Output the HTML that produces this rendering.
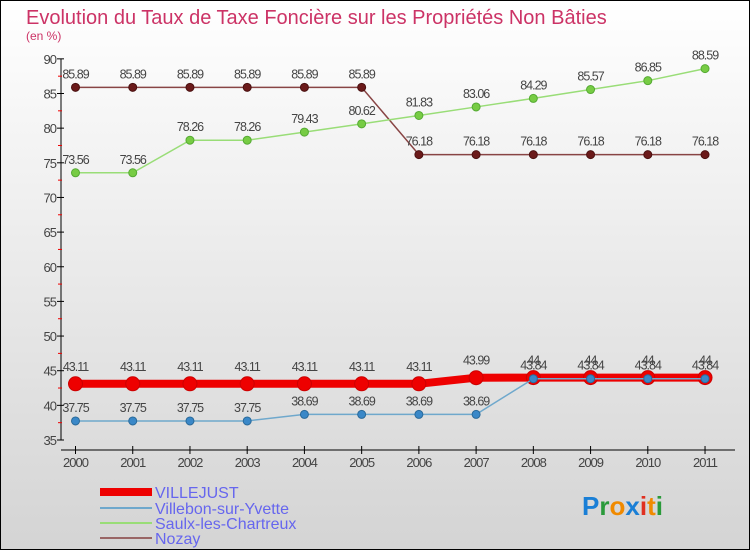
<!DOCTYPE html>
<html><head><meta charset="utf-8"><style>
body{margin:0}
#c{width:750px;height:550px;position:relative;overflow:hidden;font-family:"Liberation Sans",sans-serif}
</style></head><body>
<div id="c">
<svg id="s" width="750" height="550" xmlns="http://www.w3.org/2000/svg">
<defs><linearGradient id="bg" x1="0" y1="0" x2="0" y2="1"><stop offset="0" stop-color="#ffffff"/><stop offset="1" stop-color="#d4d4d4"/></linearGradient></defs>
<rect x="0.5" y="0.5" width="749" height="549" fill="url(#bg)" stroke="#000"/>
<text x="26" y="24" font-size="20" fill="#cc3366">Evolution du Taux de Taxe Foncière sur les Propriétés Non Bâties</text>
<text x="26" y="40" font-size="12" fill="#cc3366">(en %)</text>
<g id="axes"></g><g id="series"></g>
<g>
<rect x="100" y="488" width="52" height="8" fill="#e00"/>
<text x="155" y="498" font-size="16" fill="#6666ee">VILLEJUST</text>
<line x1="100" y1="508" x2="152" y2="508" stroke="#6fa8cc" stroke-width="2"/>
<text x="155" y="514" font-size="16" fill="#6666ee">Villebon-sur-Yvette</text>
<line x1="100" y1="523" x2="152" y2="523" stroke="#99dd77" stroke-width="2"/>
<text x="155" y="529" font-size="16" fill="#6666ee">Saulx-les-Chartreux</text>
<line x1="100" y1="538" x2="152" y2="538" stroke="#996666" stroke-width="2"/>
<text x="155" y="544" font-size="16" fill="#6666ee">Nozay</text>
</g>
<text x="582" y="515" font-size="26" font-weight="bold"><tspan fill="#1a7fd6">P</tspan><tspan fill="#2a9a3a">r</tspan><tspan fill="#f08a00">o</tspan><tspan fill="#1a7fd6">x</tspan><tspan fill="#e03020">i</tspan><tspan fill="#f08a00">t</tspan><tspan fill="#2a9a3a">i</tspan></text>
</svg>
</div>
<script>
const years=[2000,2001,2002,2003,2004,2005,2006,2007,2008,2009,2010,2011];
const yTicks=[35,40,45,50,55,60,65,70,75,80,85,90];
const villejust=[43.11,43.11,43.11,43.11,43.11,43.11,43.11,43.99,44,44,44,44];
const villebon=[37.75,37.75,37.75,37.75,38.69,38.69,38.69,38.69,43.84,43.84,43.84,43.84];
const saulx=[73.56,73.56,78.26,78.26,79.43,80.62,81.83,83.06,84.29,85.57,86.85,88.59];
const nozay=[85.89,85.89,85.89,85.89,85.89,85.89,76.18,76.18,76.18,76.18,76.18,76.18];
const NS="http://www.w3.org/2000/svg";
function X(i){return 75.5+i*57.23;}
function Y(v){return 440-(v-35)*6.93;}
function mk(t,a,p){const e=document.createElementNS(NS,t);for(const k in a)e.setAttribute(k,a[k]);p.appendChild(e);return e;}
const ax=document.getElementById('axes');
const yl=mk('line',{x1:61,y1:Y(90),x2:61,y2:Y(35),stroke:'#000'},ax);


yTicks.forEach(v=>{
 mk('line',{x1:57,y1:Y(v),x2:64,y2:Y(v),stroke:'#000'},ax);
 if(v<90) mk('line',{x1:58,y1:Y(v+2.5),x2:62,y2:Y(v+2.5),stroke:'#e00'},ax);
 const t=mk('text',{x:56,y:Y(v)+5,'font-size':13,fill:'#444','text-anchor':'end','letter-spacing':'-1'},ax);
 t.textContent=v;
 
 
});
const xl=mk('line',{x1:61,y1:450,x2:735,y2:450,stroke:'#000'},ax);


years.forEach((y,i)=>{
 mk('line',{x1:X(i),y1:446,x2:X(i),y2:454,stroke:'#000'},ax);
 const t=mk('text',{x:X(i),y:467,'font-size':13,fill:'#444','text-anchor':'middle','letter-spacing':'-1'},ax);
 t.textContent=y;
 
 
});
const sg=document.getElementById('series');
function draw(name,data,col,w,r,fill,stroke,off){
 const g=mk('g',{},sg);
 
 
 const pl=mk('polyline',{points:data.map((v,i)=>X(i)+','+Y(v)).join(' '),fill:'none',stroke:col,'stroke-width':w},g);
 
 
 data.forEach((v,i)=>{
  const c=mk('circle',{cx:X(i),cy:Y(v),r:r,fill:fill,stroke:stroke,'stroke-width':1},g);
  
  
  const t=mk('text',{x:X(i),y:Y(v)-off,'font-size':12.5,fill:'#444','text-anchor':'middle','letter-spacing':'-1'},g);
  t.textContent=v;
  
  
 });
}
draw('nozay',nozay,'#884444',1.5,4,'#6b1a1a','#4a1010',9);
draw('saulx',saulx,'#99dd77',1.5,4,'#77cc44','#55aa33',9);
draw('villejust',villejust,'#ee0000',8,7,'#ee0000','#cc0000',13);
draw('villebon',villebon,'#6fa8cc',1.5,4,'#3a88c8','#2a6a9a',9);
</script>
</body></html>
